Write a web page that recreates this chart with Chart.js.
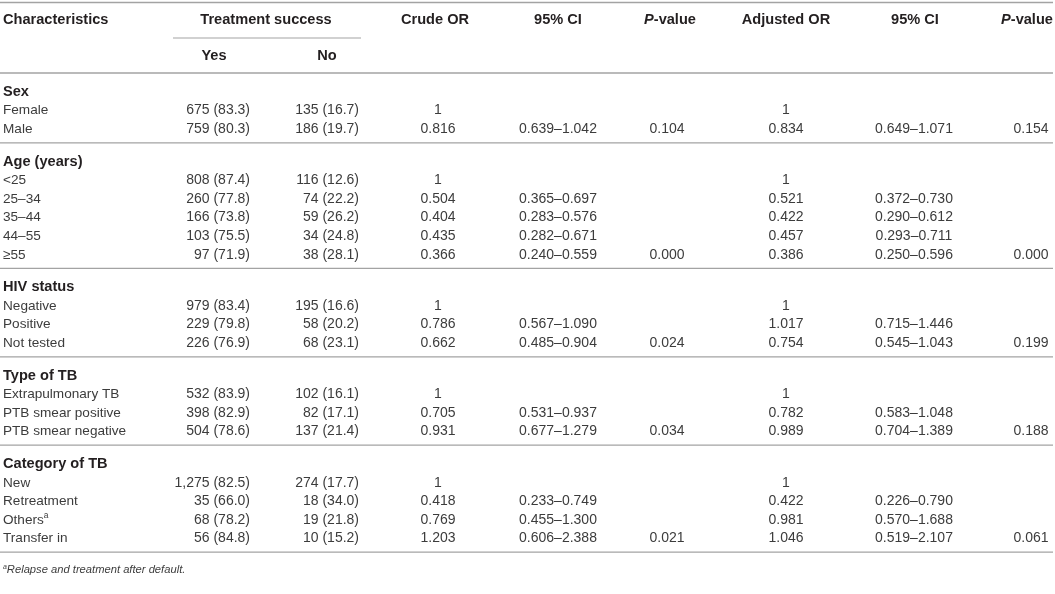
<!DOCTYPE html>
<html>
<head>
<meta charset="utf-8">
<script src="https://cdn.jsdelivr.net/npm/chart.js@4.4.0/dist/chart.umd.min.js"></script>
<style>
  html, body { margin: 0; padding: 0; background: #fff; }
  #wrap { width: 1055px; height: 594px; }
</style>
</head>
<body>
<div id="wrap"><canvas id="tableChart" width="1055" height="594"></canvas></div>
<script>
// ---- table data ----
const groupNames = ['Sex', 'Age (years)', 'HIV status', 'Type of TB', 'Category of TB'];
const groupSizes = [2, 5, 3, 3, 4];
const rowLabels = [
    'Female', 'Male',
    '<25', '25–34', '35–44', '44–55', '≥55',
    'Negative', 'Positive', 'Not tested',
    'Extrapulmonary TB', 'PTB smear positive', 'PTB smear negative',
    'New', 'Retreatment', 'Others', 'Transfer in'
];
const footnoteRows = ['Others'];

const yesN   = [675, 759, 808, 260, 166, 103, 97, 979, 229, 226, 532, 398, 504, 1275, 35, 68, 56];
const yesPct = [83.3, 80.3, 87.4, 77.8, 73.8, 75.5, 71.9, 83.4, 79.8, 76.9, 83.9, 82.9, 78.6, 82.5, 66.0, 78.2, 84.8];
const noN    = [135, 186, 116, 74, 59, 34, 38, 195, 58, 68, 102, 82, 137, 274, 18, 19, 10];
const noPct  = [16.7, 19.7, 12.6, 22.2, 26.2, 24.8, 28.1, 16.6, 20.2, 23.1, 16.1, 17.1, 21.4, 17.7, 34.0, 21.8, 15.2];

const crudeOR = [1, 0.816, 1, 0.504, 0.404, 0.435, 0.366, 1, 0.786, 0.662, 1, 0.705, 0.931, 1, 0.418, 0.769, 1.203];
const crudeLo = [null, 0.639, null, 0.365, 0.283, 0.282, 0.240, null, 0.567, 0.485, null, 0.531, 0.677, null, 0.233, 0.455, 0.606];
const crudeHi = [null, 1.042, null, 0.697, 0.576, 0.671, 0.559, null, 1.090, 0.904, null, 0.937, 1.279, null, 0.749, 1.300, 2.388];
const crudeP  = [0.104, 0.000, 0.024, 0.034, 0.021];

const adjOR = [1, 0.834, 1, 0.521, 0.422, 0.457, 0.386, 1, 1.017, 0.754, 1, 0.782, 0.989, 1, 0.422, 0.981, 1.046];
const adjLo = [null, 0.649, null, 0.372, 0.290, 0.293, 0.250, null, 0.715, 0.545, null, 0.583, 0.704, null, 0.226, 0.570, 0.519];
const adjHi = [null, 1.071, null, 0.730, 0.612, 0.711, 0.596, null, 1.446, 1.043, null, 1.048, 1.389, null, 0.790, 1.688, 2.107];
const adjP  = [0.154, 0.000, 0.199, 0.188, 0.061];

const footnote = 'Relapse and treatment after default.';

// ---- layout (pixel units on the hidden scales) ----
const FONT = "'Liberation Sans', Arial, Helvetica, sans-serif";
const LABEL_SIZE = 13.6;
const BODY_SIZE = 14;
const HEAD_SIZE = 14.6;
const TEXT_COLOR = '#3c3c3c';
const HEAD_COLOR = '#231f20';
const RULE_COLOR = '#a3a3a3';

const TABLE_RIGHT = 1053;
const HEADER_Y = 20;
const SUBHEADER_Y = 56;
const SUBRULE_Y = 38;
const HEADRULE_Y = 73;
const GROUP_OFFSET = 19;
const ROW_PITCH = 18.6;
const RULE_GAP = 13.6;
const FOOTNOTE_Y = 570;

const colX = { label: 3, yes: 250, no: 359, crudeOR: 438, crudeCI: 558, crudeP: 667, adjOR: 786, adjCI: 914, adjP: 1031 };

function fmtCount(n, p) { return n.toLocaleString('en-US') + ' (' + p.toFixed(1) + ')'; }
function fmtOR(v) { return v === 1 ? '1' : v.toFixed(3); }
function fmtCI(lo, hi) { return lo == null ? '' : lo.toFixed(3) + '–' + hi.toFixed(3); }

// row positions
const groupY = [];
const rowY = [];
const ruleY = [HEADRULE_Y];
let cursor = HEADRULE_Y;
groupSizes.forEach(function(size) {
    cursor += GROUP_OFFSET;
    groupY.push(cursor);
    for (let i = 0; i < size; i++) {
        cursor += ROW_PITCH;
        rowY.push(cursor);
    }
    cursor += RULE_GAP;
    ruleY.push(cursor);
});

// ---- datasets ----
function textSet(points, align, size, color) {
    return {
        data: points,
        pointRadius: 0,
        pointHoverRadius: 0,
        cellAlign: align,
        cellSize: size,
        cellColor: color
    };
}

function ruleSet(x1, x2, y, width) {
    return {
        data: [{ x: x1, y: y }, { x: x2, y: y }],
        showLine: true,
        borderColor: RULE_COLOR,
        borderWidth: width,
        pointRadius: 0,
        pointHoverRadius: 0
    };
}

const datasets = [];

// rules
datasets.push(ruleSet(0, TABLE_RIGHT, 2.5, 1.3));
datasets.push(ruleSet(173, 361, SUBRULE_Y, 1.2));
ruleY.forEach(function(y) { datasets.push(ruleSet(0, TABLE_RIGHT, y, 1.3)); });

// column headers
const it = function(t) { return { t: t, italic: true, bold: true }; };
const b = function(t) { return { t: t, bold: true }; };
datasets.push(textSet([
    { x: colX.label, y: HEADER_Y, runs: [b('Characteristics')] }
], 'left', HEAD_SIZE, HEAD_COLOR));
datasets.push(textSet([
    { x: 266, y: HEADER_Y, runs: [b('Treatment success')] },
    { x: 214, y: SUBHEADER_Y, runs: [b('Yes')] },
    { x: 327, y: SUBHEADER_Y, runs: [b('No')] },
    { x: 435, y: HEADER_Y, runs: [b('Crude OR')] },
    { x: 558, y: HEADER_Y, runs: [b('95% CI')] },
    { x: 670, y: HEADER_Y, runs: [it('P'), b('-value')] },
    { x: 786, y: HEADER_Y, runs: [b('Adjusted OR')] },
    { x: 915, y: HEADER_Y, runs: [b('95% CI')] },
    { x: 1027, y: HEADER_Y, runs: [it('P'), b('-value')] }
], 'center', HEAD_SIZE, HEAD_COLOR));

// group headings
datasets.push(textSet(groupNames.map(function(g, i) {
    return { x: colX.label, y: groupY[i], runs: [b(g)] };
}), 'left', HEAD_SIZE, HEAD_COLOR));

// row labels
datasets.push(textSet(rowLabels.map(function(l, i) {
    const runs = [{ t: l }];
    if (footnoteRows.indexOf(l) >= 0) runs.push({ t: 'a', sup: true });
    return { x: colX.label, y: rowY[i], runs: runs };
}), 'left', LABEL_SIZE, TEXT_COLOR));

// count columns
datasets.push(textSet(yesN.map(function(n, i) {
    return { x: colX.yes, y: rowY[i], runs: [{ t: fmtCount(n, yesPct[i]) }] };
}).concat(noN.map(function(n, i) {
    return { x: colX.no, y: rowY[i], runs: [{ t: fmtCount(n, noPct[i]) }] };
})), 'right', BODY_SIZE, TEXT_COLOR));

// odds ratios, intervals and p-values
const lastRowOfGroup = [];
groupSizes.reduce(function(acc, s) { lastRowOfGroup.push(acc + s - 1); return acc + s; }, 0);

const centred = [];
crudeOR.forEach(function(v, i) {
    centred.push({ x: colX.crudeOR, y: rowY[i], runs: [{ t: fmtOR(v) }] });
    centred.push({ x: colX.crudeCI, y: rowY[i], runs: [{ t: fmtCI(crudeLo[i], crudeHi[i]) }] });
    centred.push({ x: colX.adjOR, y: rowY[i], runs: [{ t: fmtOR(adjOR[i]) }] });
    centred.push({ x: colX.adjCI, y: rowY[i], runs: [{ t: fmtCI(adjLo[i], adjHi[i]) }] });
});
crudeP.forEach(function(p, g) {
    centred.push({ x: colX.crudeP, y: rowY[lastRowOfGroup[g]], runs: [{ t: p.toFixed(3) }] });
    centred.push({ x: colX.adjP, y: rowY[lastRowOfGroup[g]], runs: [{ t: adjP[g].toFixed(3) }] });
});
datasets.push(textSet(centred, 'center', BODY_SIZE, TEXT_COLOR));

// footnote
datasets.push(textSet([
    { x: 3, y: FOOTNOTE_Y, runs: [{ t: 'a', sup: true, italic: true }, { t: footnote, italic: true }] }
], 'left', 11.2, TEXT_COLOR));

// ---- plugin that writes cell text at the points placed by the scales ----
function runFont(run, size) {
    const s = run.sup ? size * 0.62 : size;
    return (run.italic ? 'italic ' : '') + (run.bold ? 'bold ' : '') + s + 'px ' + FONT;
}

const cellTextPlugin = {
    id: 'cellText',
    afterDatasetsDraw: function(chart) {
        const ctx = chart.ctx;
        ctx.save();
        ctx.textBaseline = 'middle';
        ctx.textAlign = 'left';
        chart.data.datasets.forEach(function(ds, i) {
            if (!ds.cellAlign) return;
            const meta = chart.getDatasetMeta(i);
            ctx.fillStyle = ds.cellColor;
            meta.data.forEach(function(el, j) {
                const runs = ds.data[j].runs;
                const widths = runs.map(function(r) {
                    ctx.font = runFont(r, ds.cellSize);
                    return ctx.measureText(r.t).width;
                });
                const total = widths.reduce(function(a, w) { return a + w; }, 0);
                let x = el.x;
                if (ds.cellAlign === 'right') x -= total;
                else if (ds.cellAlign === 'center') x -= total / 2;
                runs.forEach(function(r, k) {
                    ctx.font = runFont(r, ds.cellSize);
                    ctx.fillText(r.t, x, r.sup ? el.y - ds.cellSize * 0.3 : el.y);
                    x += widths[k];
                });
            });
        });
        ctx.restore();
    }
};

new Chart(document.getElementById('tableChart'), {
    type: 'scatter',
    data: { datasets: datasets },
    options: {
        responsive: false,
        animation: false,
        events: [],
        layout: { padding: 0 },
        plugins: {
            legend: { display: false },
            tooltip: { enabled: false }
        },
        scales: {
            x: { type: 'linear', min: 0, max: 1055, display: false },
            y: { type: 'linear', min: 0, max: 594, reverse: true, display: false }
        }
    },
    plugins: [cellTextPlugin]
});
</script>
</body>
</html>
